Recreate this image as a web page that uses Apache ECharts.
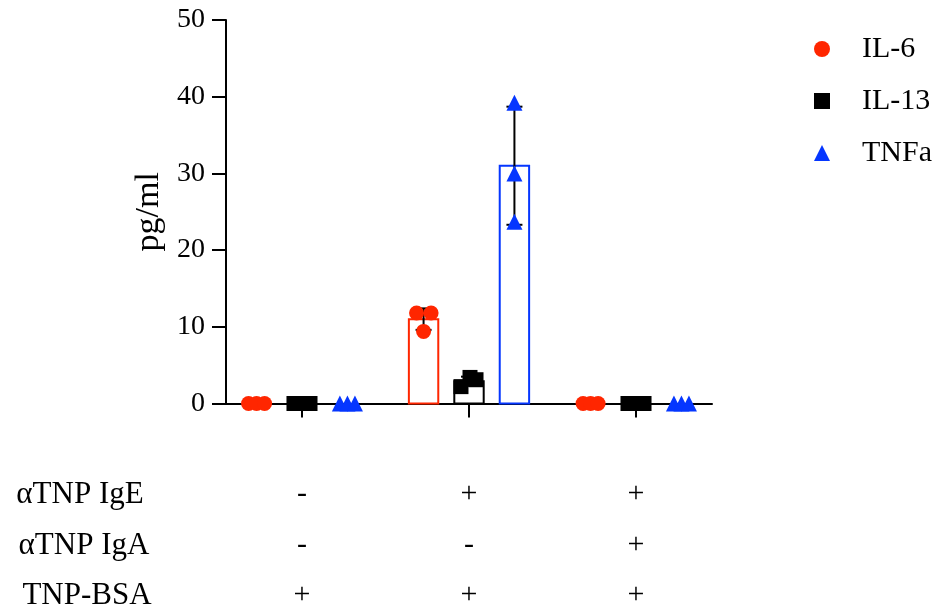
<!DOCTYPE html>
<html><head><meta charset="utf-8">
<script src="https://cdn.jsdelivr.net/npm/echarts@6/dist/echarts.min.js"></script>
<style>html,body{margin:0;padding:0;background:#fff}#c{width:939px;height:611px}</style>
</head><body><div id="c"></div>
<script>
// ---- data ----
const groups = [0, 1, 2];
const seriesNames = ['IL-6', 'IL-13', 'TNFa'];
const il6Points  = [[0, 0, 0], [11.8, 11.8, 9.4], [0, 0, 0]];
const il13Points = [[0, 0, 0], [2.2, 3.4, 3.1], [0, 0, 0]];
const tnfPoints  = [[0, 0, 0], [39.2, 30.0, 23.7], [0, 0, 0]];
const il6Mean  = [0, 11.0, 0];
const il6Sd    = [0, 1.4, 0];
const il13Mean = [0, 2.9, 0];
const il13Sd   = [0, 0.6, 0];
const tnfMean  = [0, 31.0, 0];
const tnfSd    = [0, 7.7, 0];
const rowNames = ['αTNP IgE', 'αTNP IgA', 'TNP-BSA'];
const rowIgE = ['-', '+', '+'];
const rowIgA = ['-', '-', '+'];
const rowBSA = ['+', '+', '+'];
const yTicks = [0, 10, 20, 30, 40, 50];

// ---- layout / style ----
const FONT = 'Liberation Serif';
const colors = ['#FF2600', '#000000', '#0536FF'];
const symbols = ['circle', 'rect', 'triangle'];
const symSizes = [15, 15, 16];
const offsets = [-0.272, 0, 0.272];
const barW = 0.176;
const jitter = [
  [[-0.048, 0, 0.048], [-0.042, 0.045, 0], [-0.045, 0, 0.045]],
  [[-0.048, 0, 0.048], [-0.048, 0.006, 0.042], [-0.048, 0, 0.048]],
  [[-0.045, 0, 0.045], [0, 0, 0], [-0.045, 0, 0.045]]
];
const points = [il6Points, il13Points, tnfPoints];
const means = [il6Mean, il13Mean, tnfMean];
const sds = [il6Sd, il13Sd, tnfSd];

const series = [];
seriesNames.forEach((name, s) => {
  // bars
  series.push({
    type: 'custom', name: name + ' mean', z: 2, silent: true,
    data: groups.map(g => [g, means[s][g]]),
    renderItem: (params, api) => {
      const g = api.value(0), m = api.value(1);
      if (!m) return null;
      const x = g + offsets[s];
      const p0 = api.coord([x - barW / 2, m]);
      const p1 = api.coord([x + barW / 2, 0]);
      return { type: 'rect', shape: { x: p0[0], y: p0[1], width: p1[0] - p0[0], height: p1[1] - p0[1] },
        style: { fill: 'rgba(255,255,255,0)', stroke: colors[s], lineWidth: 2 } };
    }
  });
  // error bars
  series.push({
    type: 'custom', name: name + ' sd', z: 3, silent: true,
    data: groups.map(g => [g, means[s][g], sds[s][g]]),
    renderItem: (params, api) => {
      const g = api.value(0), m = api.value(1), sd = api.value(2);
      if (!sd) return null;
      const x = g + offsets[s];
      const top = api.coord([x, m + sd]);
      const bot = api.coord([x, m - sd]);
      const cw = 8;
      return { type: 'group', children: [
        { type: 'line', shape: { x1: top[0], y1: top[1], x2: bot[0], y2: bot[1] }, style: { stroke: '#000', lineWidth: 2 } },
        { type: 'line', shape: { x1: top[0] - cw, y1: top[1], x2: top[0] + cw, y2: top[1] }, style: { stroke: '#000', lineWidth: 2 } },
        { type: 'line', shape: { x1: bot[0] - cw, y1: bot[1], x2: bot[0] + cw, y2: bot[1] }, style: { stroke: '#000', lineWidth: 2 } }
      ] };
    }
  });
});
seriesNames.forEach((name, s) => {
  const data = [];
  groups.forEach(g => points[s][g].forEach((v, i) => data.push([g + offsets[s] + jitter[s][g][i], v])));
  series.push({
    type: 'scatter', name: name, z: 5, symbol: symbols[s], symbolSize: symSizes[s],
    itemStyle: { color: colors[s], opacity: 1 }, data: data, silent: true
  });
});

const xmin = -0.455, xmax = 2.455;
function labelAxis(name, row, off, gap) {
  return {
    type: 'value', min: xmin, max: xmax, position: 'bottom', offset: off,
    axisLine: { show: false, onZero: false }, axisTick: { show: false }, splitLine: { show: false },
    axisLabel: { customValues: groups, margin: 0, verticalAlign: 'middle', fontFamily: FONT, fontSize: 30, color: '#000',
      formatter: v => row[Math.round(v)] },
    name: name, nameLocation: 'start', nameGap: gap,
    nameTextStyle: { fontFamily: FONT, fontSize: 31, color: '#000', align: 'center', verticalAlign: 'middle' }
  };
}

const chart = echarts.init(document.getElementById('c'), null, { renderer: 'canvas' });
chart.setOption({
  animation: false,
  backgroundColor: '#fff',
  grid: { left: 226, right: 227, top: 20, bottom: 207, containLabel: false },
  legend: {
    orient: 'vertical', left: 809, top: 29, itemWidth: 16, itemHeight: 16, itemGap: 22,
    data: seriesNames,
    textStyle: { fontFamily: FONT, fontSize: 30, color: '#000', padding: [0, 0, 0, 27] },
    selectedMode: false
  },
  xAxis: [
    { type: 'value', min: xmin, max: xmax,
      axisLine: { show: true, onZero: false, lineStyle: { color: '#000', width: 2 } },
      axisTick: { show: true, customValues: groups, length: 14, lineStyle: { color: '#000', width: 2 } },
      axisLabel: { show: false }, splitLine: { show: false } },
    labelAxis(rowNames[0], rowIgE, 91, 146),
    labelAxis(rowNames[1], rowIgA, 142, 142),
    labelAxis(rowNames[2], rowBSA, 192, 139)
  ],
  yAxis: {
    type: 'value', min: 0, max: 50, interval: 10,
    name: 'pg/ml', nameLocation: 'middle', nameGap: 58, nameRotate: 90,
    nameTextStyle: { fontFamily: FONT, fontSize: 34, color: '#000' },
    axisLine: { show: true, onZero: false, lineStyle: { color: '#000', width: 2 } },
    axisTick: { show: true, length: 14, lineStyle: { color: '#000', width: 2 } },
    axisLabel: { fontFamily: FONT, fontSize: 28, color: '#000', margin: 21,
      formatter: v => yTicks.indexOf(v) >= 0 ? String(v) : '' },
    splitLine: { show: false }
  },
  series: series
});
</script></body></html>
